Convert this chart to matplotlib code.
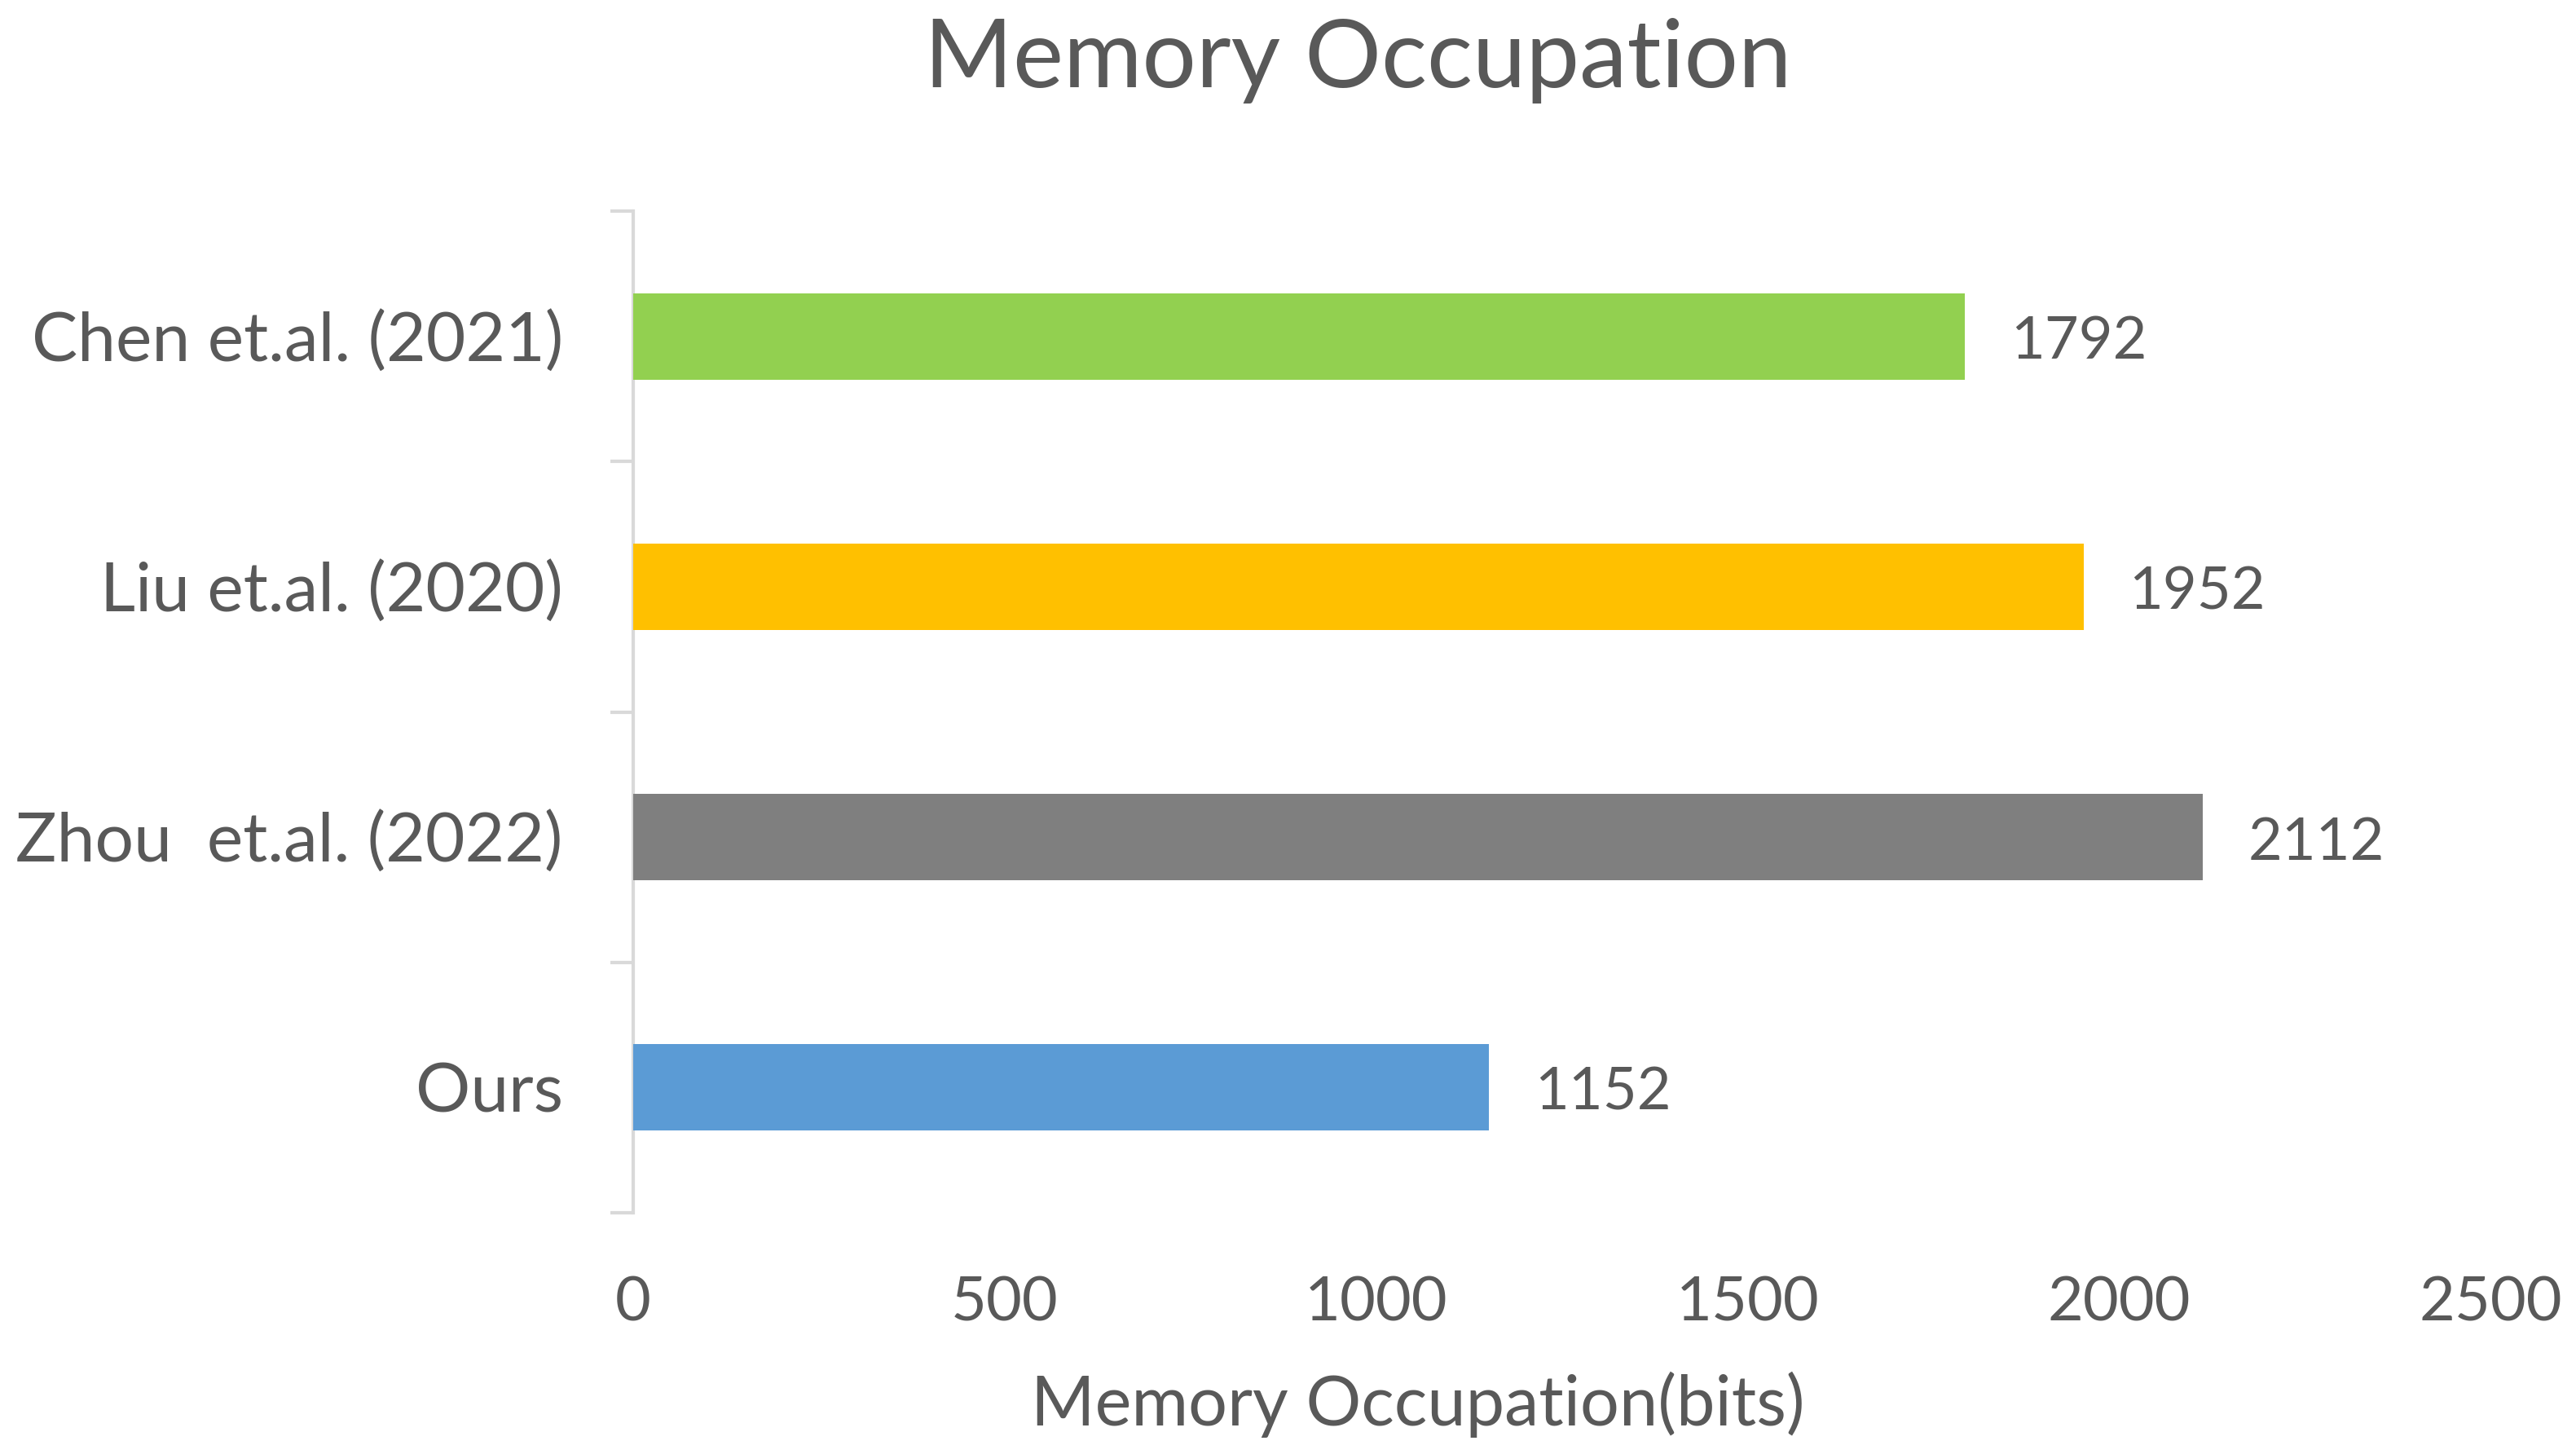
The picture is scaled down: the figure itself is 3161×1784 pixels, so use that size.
import matplotlib
matplotlib.use("Agg")
import matplotlib.pyplot as plt

plt.rcParams['font.family'] = ['Lato', 'DejaVu Sans']

# data (bottom to top)
methods = ['Ours', 'Zhou  et.al. (2022)', 'Liu et.al. (2020)', 'Chen et.al. (2021)']
memory_bits = [1152, 2112, 1952, 1792]
bar_colors = ['#5B9BD5', '#7F7F7F', '#FFC000', '#92D050']
xticks = [0, 500, 1000, 1500, 2000, 2500]

text_color = '#595959'
axis_color = '#D9D9D9'

fig = plt.figure(figsize=(31.61, 17.84), dpi=100)
ax = fig.add_axes([0.2458, 0.1659, 0.7212, 0.6889])

ypos = list(range(len(methods)))
ax.barh(ypos, memory_bits, height=0.345, color=bar_colors, zorder=3)

for y, v in zip(ypos, memory_bits):
    ax.annotate(str(v), xy=(v, y), xytext=(40, -5), textcoords='offset points',
                va='center', ha='left', fontsize=52, color=text_color)

ax.set_xlim(0, 2500)
ax.set_ylim(-0.5, len(methods) - 0.5)
ax.set_xticks(xticks)
ax.set_xticklabels([str(t) for t in xticks], fontsize=54.5, color=text_color)
ax.tick_params(axis='x', length=0, pad=55)

# category boundaries get the small tick marks, labels sit between them
ax.set_yticks([y + 0.5 for y in [-1] + ypos], minor=False)
ax.set_yticklabels([])
ax.set_yticks(ypos, minor=True)
ax.set_yticklabels(methods, minor=True, fontsize=60.5, color=text_color)
ax.tick_params(axis='y', which='major', length=20, width=3, color=axis_color, direction='out')
ax.tick_params(axis='y', which='minor', length=0, pad=62)

for s in ['top', 'right', 'bottom']:
    ax.spines[s].set_visible(False)
ax.spines['left'].set_color(axis_color)
ax.spines['left'].set_linewidth(3)

fig.text(0.5504, 0.034, 'Memory Occupation(bits)', fontsize=61, color=text_color,
         ha='center', va='center')
fig.text(0.527, 0.958, 'Memory Occupation', fontsize=84.5, color=text_color,
         ha='center', va='center')

fig.savefig('out.png', dpi=100)
